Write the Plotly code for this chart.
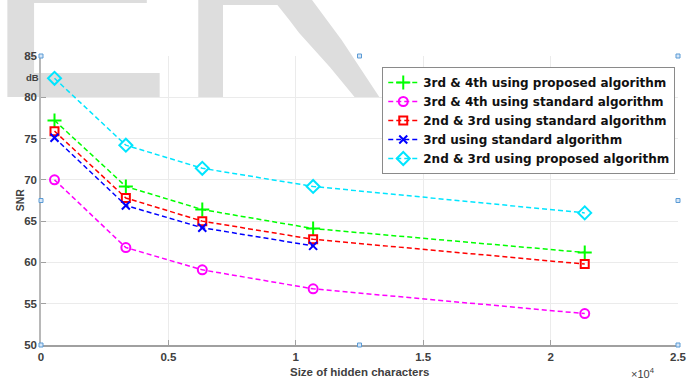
import plotly.graph_objects as go

# ---------------- data ----------------
sizes = [530, 3330, 6330, 10680, 21340]
snr_34_proposed = [77.2, 69.2, 66.4, 64.1, 61.2]
snr_34_standard = [70.0, 61.8, 59.1, 56.8, 53.8]
snr_23_standard = [75.9, 67.8, 65.0, 62.8, 59.8]
snr_3_standard = [75.1, 66.9, 64.2, 62.0]
snr_23_proposed = [82.3, 74.2, 71.4, 69.2, 66.0]

names = [
    "3rd & 4th using proposed algorithm",
    "3rd & 4th using standard algorithm",
    "2nd & 3rd using standard algorithm",
    "3rd using standard algorithm",
    "2nd & 3rd using proposed algorithm",
]
x_tickvals = [0, 5000, 10000, 15000, 20000, 25000]
x_ticktext = ["0", "0.5", "1", "1.5", "2", "2.5"]
y_tickvals = [50, 55, 60, 65, 70, 75, 80, 85]

W, H = 699, 381
L, R, T, B = 41, 14, 56, 36
PW, PH = W - L - R, H - T - B


def px(xp, yp):
    return (xp - L) / PW, (H - B - yp) / PH


def path_from(points):
    s = ""
    for i, (a, b) in enumerate(points):
        xx, yy = px(a, b)
        s += ("M" if i == 0 else "L") + f"{xx:.4f},{yy:.4f} "
    return s + "Z"


fig = go.Figure()

series = [
    (sizes, snr_34_proposed, "#00ff00", "cross-thin-open", 10),
    (sizes, snr_34_standard, "#ff00ff", "circle-open", 9),
    (sizes, snr_23_standard, "#ff0000", "square-open", 8),
    (sizes[:4], snr_3_standard, "#0000ff", "x-thin-open", 8),
    (sizes, snr_23_proposed, "#00e5ff", "diamond-open", 10),
]
for (xs, ys, c, sym, sz), nm in zip(series, names):
    fig.add_trace(go.Scatter(
        x=xs, y=ys, name=nm, mode="lines+markers",
        line=dict(color=c, width=1.5, dash="5px,3px"),
        marker=dict(symbol=sym, size=sz, color=c, line=dict(color=c, width=2)),
        cliponaxis=False,
    ))

shapes = []
# watermark letters
E_poly = [(7, 0), (148, 0), (148, 3), (34, 3), (34, 73), (161, 73), (161, 97), (7, 97)]
R_poly = [(200, 0), (315, 0), (345, 40), (383, 97), (358, 97), (333, 67), (302, 33),
          (292, 20), (280, 5), (225, 5), (225, 97), (200, 97)]
for poly in (E_poly, R_poly):
    shapes.append(dict(type="path", xref="paper", yref="paper", path=path_from(poly),
                       fillcolor="#dddddd", line=dict(width=0), layer="below"))
# selection handles
for hx, hy in [(0, 0), (0.5, 0), (1, 0), (0, 0.5), (1, 0.5), (0, 1), (0.5, 1), (1, 1)]:
    shapes.append(dict(type="rect", xref="paper", yref="paper",
                       xsizemode="pixel", ysizemode="pixel",
                       xanchor=hx, yanchor=hy, x0=-2, x1=2, y0=-2, y1=2,
                       fillcolor="#d6e6f7", line=dict(color="#5b9bd5", width=1),
                       layer="above"))

fnt = "Liberation Sans, Arial, sans-serif"
lfnt = "DejaVu Sans, Verdana, sans-serif"
fig.update_layout(
    width=W, height=H,
    margin=dict(l=L, r=R, t=T, b=B),
    paper_bgcolor="white", plot_bgcolor="rgba(0,0,0,0)",
    font=dict(family=fnt, size=12, color="#404040"),
    shapes=shapes,
    showlegend=True,
    legend=dict(
        x=px(386, 0)[0], y=px(0, 67)[1], xanchor="left", yanchor="top",
        bgcolor="white", bordercolor="#8a8a8a", borderwidth=1,
        font=dict(family=lfnt, size=12, color="#111111", weight="bold"),
        tracegroupgap=0, itemwidth=30,
    ),
    xaxis=dict(
        range=[0, 25000], tickvals=x_tickvals, ticktext=x_ticktext,
        showgrid=True, gridcolor="#ebebeb", gridwidth=1, zeroline=False,
        showline=True, linecolor="#a0a0a0", linewidth=2,
        ticks="inside", ticklen=5, tickcolor="#a0a0a0",
        tickfont=dict(family=fnt, size=11.5, color="#404040", weight="bold"),
    ),
    yaxis=dict(
        range=[50, 85], tickvals=y_tickvals,
        showgrid=True, gridcolor="#ebebeb", gridwidth=1, zeroline=False,
        showline=True, linecolor="#b8b8b8", linewidth=1.5,
        ticks="inside", ticklen=5, tickcolor="#a0a0a0",
        tickfont=dict(family=fnt, size=11.5, color="#404040", weight="bold"),
    ),
    annotations=[
        dict(text="Size of hidden characters", xref="paper", yref="paper",
             x=px(363, 0)[0], y=px(0, 372)[1], yanchor="middle", showarrow=False,
             font=dict(family=fnt, size=11.5, color="#404040", weight="bold")),
        dict(text="SNR", xref="paper", yref="paper", textangle=-90,
             x=px(12, 0)[0], y=px(0, 200)[1], showarrow=False,
             font=dict(family=fnt, size=10.5, color="#404040", weight="bold")),
        dict(text="dB", xref="paper", yref="paper",
             x=px(24, 0)[0], y=px(0, 70)[1], showarrow=False,
             font=dict(family=fnt, size=9.5, color="#404040", weight="bold")),
        dict(text="×10<sup>4</sup>", xref="paper", yref="paper",
             x=px(664, 0)[0], y=px(0, 373)[1], yanchor="middle", showarrow=False,
             font=dict(family=fnt, size=11, color="#404040")),
    ],
)

fig.write_html("out.html", config={"displayModeBar": False},
               post_script="document.body.style.margin='0';document.body.style.padding='0';")
